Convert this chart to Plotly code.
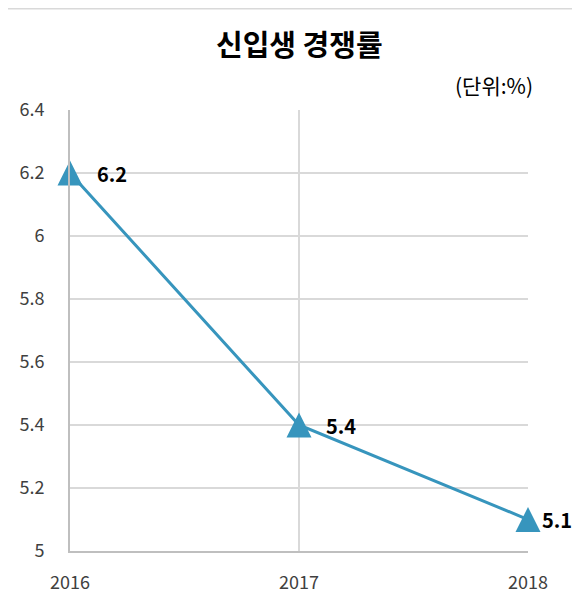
import plotly.graph_objects as go

years = [2016, 2017, 2018]
year_labels = ["2016", "2017", "2018"]
rates = [6.2, 5.4, 5.1]
rate_labels = ["6.2", "5.4", "5.1"]
y_ticks = [5, 5.2, 5.4, 5.6, 5.8, 6, 6.2, 6.4]
y_tick_labels = ["5", "5.2", "5.4", "5.6", "5.8", "6", "6.2", "6.4"]
title_text = "신입생 경쟁률"
unit_text = "(단위:%)"

label_shifts = [25, 25, 12]

LINE = "#3795BD"
FONT = "Noto Sans CJK KR"

Y_MIN, Y_MAX = 5, 6.4
PLOT_H = 608 - 102 - 65          # plot area height in px
MARKER = 25                      # arrow marker size (px)
# second axis shifted so the arrow marker (tip at point) is centred on the point
d = (MARKER / 2) * (Y_MAX - Y_MIN) / PLOT_H

fig = go.Figure()
fig.add_trace(go.Scatter(
    x=years, y=rates, mode="lines",
    line=dict(color=LINE, width=3),
    cliponaxis=False, showlegend=False, hoverinfo="skip",
))
fig.add_trace(go.Scatter(
    x=years, y=rates, mode="markers", yaxis="y2",
    marker=dict(symbol="arrow-up", size=MARKER, color=LINE, line=dict(width=0)),
    cliponaxis=False, showlegend=False, hoverinfo="skip",
))

for x, y, t, s in zip(years, rates, rate_labels, label_shifts):
    fig.add_annotation(x=x, y=y, text="<b>" + t + "</b>", showarrow=False,
                       xanchor="left", yanchor="middle", xshift=s,
                       font=dict(family=FONT, size=20, color="#000000"))

fig.add_annotation(x=0.5, y=1.0, xref="paper", yref="paper", yshift=67,
                   text="<b>" + title_text + "</b>", showarrow=False,
                   xanchor="center", yanchor="middle",
                   font=dict(family=FONT, size=29, color="#000000"))
fig.add_annotation(x=1.0, y=1.0, xref="paper", yref="paper", yshift=25, xshift=7,
                   text=unit_text, showarrow=False,
                   xanchor="right", yanchor="middle",
                   font=dict(family=FONT, size=21, color="#000000"))

# outer chart border (top edge visible)
fig.add_shape(type="rect", xref="paper", yref="paper",
              x0=-0.2, x1=1.6, y0=-0.6, y1=1.2296,
              line=dict(color="#D9D9D9", width=1.5), layer="below")

fig.update_layout(
    width=580, height=608,
    margin=dict(l=62, r=60, t=102, b=65),
    paper_bgcolor="#FFFFFF", plot_bgcolor="#FFFFFF",
    font=dict(family=FONT, size=18, color="#404040"),
    xaxis=dict(
        range=[2016, 2018], tickmode="array", tickvals=years, ticktext=year_labels,
        showgrid=True, gridcolor="#D9D9D9", gridwidth=1.5,
        showline=True, linecolor="#BFBFBF", linewidth=2,
        ticks="", ticklabelstandoff=14, zeroline=False,
        tickfont=dict(family=FONT, size=18, color="#404040"),
    ),
    yaxis=dict(
        range=[Y_MIN, Y_MAX], tickmode="array", tickvals=y_ticks, ticktext=y_tick_labels,
        showgrid=True, gridcolor="#D9D9D9", gridwidth=1.5,
        showline=True, linecolor="#BFBFBF", linewidth=2,
        ticks="", ticklabelstandoff=20, zeroline=False,
        tickfont=dict(family=FONT, size=18, color="#404040"),
    ),
    yaxis2=dict(
        range=[Y_MIN - d, Y_MAX - d], overlaying="y", visible=False,
        showgrid=False, zeroline=False,
    ),
)

fig.write_html("out.html")
